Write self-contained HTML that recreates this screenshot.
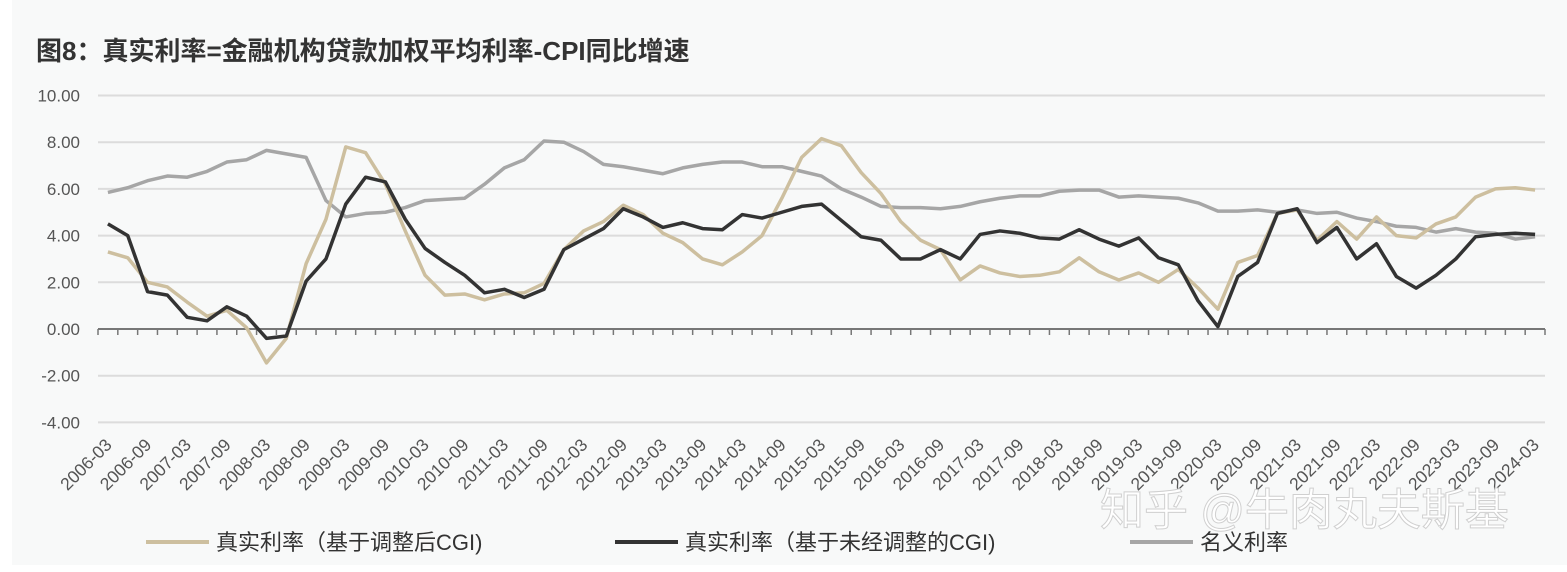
<!DOCTYPE html>
<html><head><meta charset="utf-8"><style>
body{margin:0;background:#fff}
#wrap{position:relative;width:1567px;height:572px;background:#fff;overflow:hidden}
#bg{position:absolute;left:12px;top:0;width:1555px;height:565px;background:#f8f9f9}
#title{position:absolute;left:36px;top:31px;font:bold 26px "Liberation Sans","Noto Sans CJK SC",sans-serif;color:#333}
svg{position:absolute;left:0;top:0}
text{font-family:"Liberation Sans","Noto Sans CJK SC",sans-serif}
</style></head><body>
<div id="wrap">
<div id="bg"></div>
<div id="title">图8：真实利率=金融机构贷款加权平均利率-CPI同比增速</div>
<svg id="chart" width="1567" height="572"></svg>
</div>
<script>
const yTicks=[10,8,6,4,2,0,-2,-4];
const nominal=[5.85,6.05,6.35,6.55,6.5,6.75,7.15,7.25,7.65,7.5,7.35,5.5,4.8,4.95,5.0,5.2,5.5,5.55,5.6,6.2,6.9,7.25,8.05,8.0,7.6,7.05,6.95,6.8,6.65,6.9,7.05,7.15,7.15,6.95,6.95,6.75,6.55,6.0,5.65,5.25,5.2,5.2,5.15,5.25,5.45,5.6,5.7,5.7,5.9,5.95,5.95,5.65,5.7,5.65,5.6,5.4,5.05,5.05,5.1,5.0,5.1,4.95,5.0,4.75,4.6,4.4,4.35,4.15,4.3,4.15,4.1,3.85,3.95];
const realAdj=[3.3,3.05,2.0,1.8,1.15,0.55,0.8,0.05,-1.45,-0.4,2.8,4.7,7.8,7.55,6.2,4.2,2.3,1.45,1.5,1.25,1.5,1.55,1.95,3.4,4.2,4.6,5.3,4.9,4.1,3.7,3.0,2.75,3.3,4.0,5.6,7.35,8.15,7.85,6.7,5.8,4.6,3.8,3.4,2.1,2.7,2.4,2.25,2.3,2.45,3.05,2.45,2.1,2.4,2.0,2.55,1.75,0.85,2.85,3.15,4.95,5.1,3.8,4.6,3.85,4.8,4.0,3.9,4.5,4.8,5.65,6.0,6.05,5.95];
const realRaw=[4.5,4.0,1.6,1.45,0.5,0.35,0.95,0.55,-0.4,-0.3,2.05,3.0,5.35,6.5,6.3,4.7,3.45,2.85,2.3,1.55,1.7,1.35,1.7,3.4,3.85,4.3,5.15,4.8,4.35,4.55,4.3,4.25,4.9,4.75,5.0,5.25,5.35,4.65,3.95,3.8,3.0,3.0,3.4,3.0,4.05,4.2,4.1,3.9,3.85,4.25,3.85,3.55,3.9,3.05,2.75,1.2,0.1,2.25,2.85,4.95,5.15,3.7,4.35,3.0,3.65,2.25,1.75,2.3,3.0,3.95,4.05,4.1,4.05];
const categories=[];
for(let yr=2006;yr<=2024;yr++){for(const m of ['03','06','09','12']){if(yr===2024&&m!=='03')continue;categories.push(yr+'-'+m);}}

const svg=document.getElementById('chart');
const NS='http://www.w3.org/2000/svg';
const X0=98,X1=1545,Y0=329,PX=23.35;
const bw=(X1-X0)/categories.length;
const xs=i=>X0+(i+0.5)*bw;
const ys=v=>Y0-v*PX;
function mk(t,a){const e=document.createElementNS(NS,t);for(const k in a)e.setAttribute(k,a[k]);svg.appendChild(e);return e;}
yTicks.forEach(v=>{
 if(v!==0){const g=mk('line',{x1:X0,x2:X1,y1:ys(v),y2:ys(v),stroke:'#dcdcdc','stroke-width':2});
 
 }
 const t=mk('text',{x:80,y:ys(v)+6,'text-anchor':'end','font-size':17,fill:'#555'});
 t.textContent=v.toFixed(2);
 
 
});
const ax=mk('line',{x1:X0,x2:X1,y1:Y0,y2:Y0,stroke:'#777','stroke-width':2});


for(let i=0;i<=categories.length;i++){
 const tk=mk('line',{x1:X0+i*bw,x2:X0+i*bw,y1:Y0,y2:Y0+6,stroke:'#777','stroke-width':1.5});
 
 
}
categories.forEach((c,i)=>{
 if(i%2)return;
 const x=xs(i)+5,y=446;
 const t=mk('text',{x:x,y:y,'text-anchor':'end','font-size':17.5,fill:'#555',transform:`rotate(-45 ${x} ${y})`});
 t.textContent=c;
 
 
});
function series(d,col,name){
 const p=mk('polyline',{points:d.map((v,i)=>xs(i)+','+ys(v)).join(' '),fill:'none',stroke:col,'stroke-width':3.5,'stroke-linejoin':'round'});
 
 
}
series(nominal,'#a6a6a6','nominal-rate-line');
series(realAdj,'#cdbf9f','real-rate-adjusted-line');
series(realRaw,'#333333','real-rate-unadjusted-line');
const wm=mk('text',{x:1100,y:525,'font-size':44,fill:'#ffffff',stroke:'#d0d0d0','stroke-width':1});
wm.textContent='知乎 @牛肉丸夫斯基';


const leg=[[146,'#cdbf9f','真实利率（基于调整后CGI)'],[615,'#333333','真实利率（基于未经调整的CGI)'],[1130,'#a6a6a6','名义利率']];
leg.forEach(([x,c,l])=>{
 const ln=mk('line',{x1:x,x2:x+63,y1:542,y2:542,stroke:c,'stroke-width':4});
 
 
 const t=mk('text',{x:x+70,y:550,'font-size':22,fill:'#333'});
 t.textContent=l;
 
 
});
</script>
</body></html>
